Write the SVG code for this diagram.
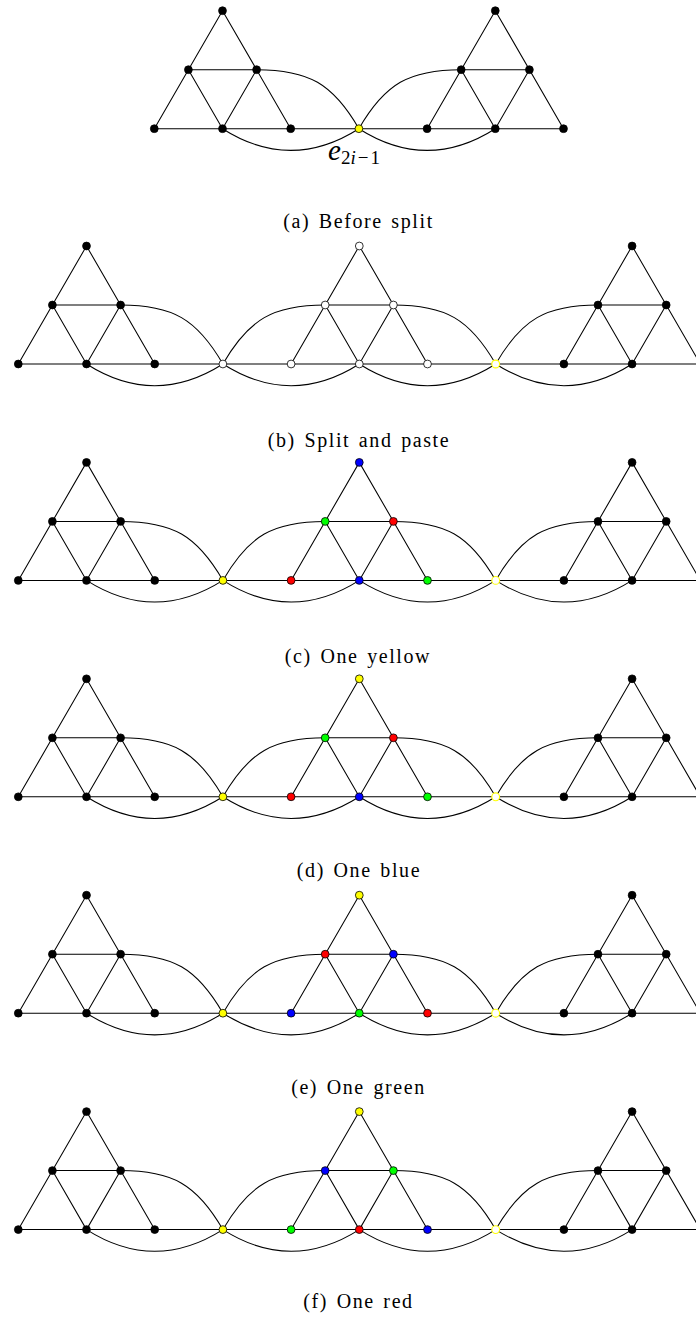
<svg xmlns="http://www.w3.org/2000/svg" xmlns:xlink="http://www.w3.org/1999/xlink" width="696" height="1318" viewBox="0 0 696 1318">
<style>
.e{fill:none;stroke:#000;stroke-width:1.05}
.n{stroke:#000;stroke-width:0.8}
.k{fill:#000}.w{fill:#fff}.y{fill:#ffff00}.b{fill:#0000ff}.r{fill:#ff0000}.g{fill:#00ff00}
.p{fill:#fff;stroke:#ffff00;stroke-width:1.1}
.cap{font-size:20px;letter-spacing:1.6px;word-spacing:2px;fill:#000;text-anchor:middle}
</style>
<defs>
<g id="gadL"><path class="e" d="M18.3,0 L86.5,-118 L154.7,0 M52.4,-59 H120.6 M52.4,-59 L86.5,0 L120.6,-59"/></g>
<g id="gadM"><path class="e" d="M291.1,0 L359.3,-118 L427.5,0 M325.2,-59 H393.4 M325.2,-59 L359.3,0 L393.4,-59"/></g>
<g id="gadR"><path class="e" d="M563.9,0 L632.1,-118 L700.3,0 M598,-59 H666.2 M598,-59 L632.1,0 L666.2,-59"/></g>
<g id="curves1"><path class="e" d="M120.6,-59 C172.6,-59 196.9,-45 222.9,0 M222.9,0 C248.9,-45 273.2,-59 325.2,-59 M86.5,0 C131.8,28.8 177.6,28.8 222.9,0 M222.9,0 C268.2,28.8 314,28.8 359.3,0"/></g>
<g id="curves2"><path class="e" d="M393.4,-59 C445.4,-59 469.7,-45 495.7,0 M495.7,0 C521.7,-45 546,-59 598,-59 M359.3,0 C404.6,28.8 450.4,28.8 495.7,0 M495.7,0 C541,28.8 586.8,28.8 632.1,0"/></g>
<g id="chain">
<path class="e" d="M18.3,0 H700.3"/>
<use xlink:href="#gadL"/><use xlink:href="#gadM"/><use xlink:href="#gadR"/>
<use xlink:href="#curves1"/><use xlink:href="#curves2"/>
</g>
</defs>

<g id="connectors">
<g id="edges-a" transform="translate(136,128.7)">
<path class="e" d="M18.3,0 H427.5"/>
<use xlink:href="#gadL"/><use xlink:href="#gadM"/><use xlink:href="#curves1"/>
</g>
<use id="edges-b" xlink:href="#chain" transform="translate(0,364)"/>
<use id="edges-c" xlink:href="#chain" transform="translate(0,580.4)"/>
<use id="edges-d" xlink:href="#chain" transform="translate(0,796.8)"/>
<use id="edges-e" xlink:href="#chain" transform="translate(0,1013.2)"/>
<use id="edges-f" xlink:href="#chain" transform="translate(0,1229.6)"/>
</g>

<!-- Panel a -->
<g id="panel-a" transform="translate(136,128.7)">
<g id="a1"><circle class="n k" cx="18.3" cy="0" r="3.9"/></g>
<g id="a2"><circle class="n k" cx="86.5" cy="0" r="3.9"/></g>
<g id="a3"><circle class="n k" cx="154.7" cy="0" r="3.9"/></g>
<g id="a4"><circle class="n k" cx="52.4" cy="-59" r="3.9"/></g>
<g id="a5"><circle class="n k" cx="120.6" cy="-59" r="3.9"/></g>
<g id="a6"><circle class="n k" cx="86.5" cy="-118" r="3.9"/></g>
<g id="a7"><circle class="n y" cx="222.9" cy="0" r="3.9"/></g>
<g id="a8"><circle class="n k" cx="291.1" cy="0" r="3.9"/></g>
<g id="a9"><circle class="n k" cx="359.3" cy="0" r="3.9"/></g>
<g id="a10"><circle class="n k" cx="427.5" cy="0" r="3.9"/></g>
<g id="a11"><circle class="n k" cx="325.2" cy="-59" r="3.9"/></g>
<g id="a12"><circle class="n k" cx="393.4" cy="-59" r="3.9"/></g>
<g id="a13"><circle class="n k" cx="359.3" cy="-118" r="3.9"/></g>
</g>
<text x="328" y="160" font-family="'Liberation Serif', 'DejaVu Serif', serif" fill="#000"><tspan font-style="italic" font-size="29">e</tspan><tspan font-size="19" dy="3.5">2<tspan font-style="italic">i</tspan><tspan dx="2">−</tspan><tspan dx="2">1</tspan></tspan></text>
<text class="cap" font-family="'Liberation Serif', 'DejaVu Serif', serif" x="358.5" y="228">(a) Before split</text>

<!-- Panel b -->
<g id="panel-b" transform="translate(0,364)">
<g id="b1"><circle class="n k" cx="18.3" cy="0" r="3.9"/></g>
<g id="b2"><circle class="n k" cx="86.5" cy="0" r="3.9"/></g>
<g id="b3"><circle class="n k" cx="154.7" cy="0" r="3.9"/></g>
<g id="b4"><circle class="n k" cx="52.4" cy="-59" r="3.9"/></g>
<g id="b5"><circle class="n k" cx="120.6" cy="-59" r="3.9"/></g>
<g id="b6"><circle class="n k" cx="86.5" cy="-118" r="3.9"/></g>
<g id="b7"><circle class="n w" cx="222.9" cy="0" r="3.9"/></g>
<g id="b8"><circle class="n w" cx="291.1" cy="0" r="3.9"/></g>
<g id="b9"><circle class="n w" cx="359.3" cy="0" r="3.9"/></g>
<g id="b10"><circle class="n w" cx="427.5" cy="0" r="3.9"/></g>
<g id="b11"><circle class="n w" cx="325.2" cy="-59" r="3.9"/></g>
<g id="b12"><circle class="n w" cx="393.4" cy="-59" r="3.9"/></g>
<g id="b13"><circle class="n w" cx="359.3" cy="-118" r="3.9"/></g>
<g id="b14"><circle class="p" cx="495.7" cy="0" r="3.9"/></g>
<g id="b15"><circle class="n k" cx="563.9" cy="0" r="3.9"/></g>
<g id="b16"><circle class="n k" cx="632.1" cy="0" r="3.9"/></g>
<g id="b17"><circle class="n k" cx="700.3" cy="0" r="3.9"/></g>
<g id="b18"><circle class="n k" cx="598" cy="-59" r="3.9"/></g>
<g id="b19"><circle class="n k" cx="666.2" cy="-59" r="3.9"/></g>
<g id="b20"><circle class="n k" cx="632.1" cy="-118" r="3.9"/></g>
</g>
<text class="cap" font-family="'Liberation Serif', 'DejaVu Serif', serif" x="359" y="446.5">(b) Split and paste</text>

<!-- Panel c -->
<g id="panel-c" transform="translate(0,580.4)">
<g id="c1"><circle class="n k" cx="18.3" cy="0" r="3.9"/></g>
<g id="c2"><circle class="n k" cx="86.5" cy="0" r="3.9"/></g>
<g id="c3"><circle class="n k" cx="154.7" cy="0" r="3.9"/></g>
<g id="c4"><circle class="n k" cx="52.4" cy="-59" r="3.9"/></g>
<g id="c5"><circle class="n k" cx="120.6" cy="-59" r="3.9"/></g>
<g id="c6"><circle class="n k" cx="86.5" cy="-118" r="3.9"/></g>
<g id="c7"><circle class="n y" cx="222.9" cy="0" r="3.9"/></g>
<g id="c8"><circle class="n r" cx="291.1" cy="0" r="3.9"/></g>
<g id="c9"><circle class="n b" cx="359.3" cy="0" r="3.9"/></g>
<g id="c10"><circle class="n g" cx="427.5" cy="0" r="3.9"/></g>
<g id="c11"><circle class="n g" cx="325.2" cy="-59" r="3.9"/></g>
<g id="c12"><circle class="n r" cx="393.4" cy="-59" r="3.9"/></g>
<g id="c13"><circle class="n b" cx="359.3" cy="-118" r="3.9"/></g>
<g id="c14"><circle class="p" cx="495.7" cy="0" r="3.9"/></g>
<g id="c15"><circle class="n k" cx="563.9" cy="0" r="3.9"/></g>
<g id="c16"><circle class="n k" cx="632.1" cy="0" r="3.9"/></g>
<g id="c17"><circle class="n k" cx="700.3" cy="0" r="3.9"/></g>
<g id="c18"><circle class="n k" cx="598" cy="-59" r="3.9"/></g>
<g id="c19"><circle class="n k" cx="666.2" cy="-59" r="3.9"/></g>
<g id="c20"><circle class="n k" cx="632.1" cy="-118" r="3.9"/></g>
</g>
<text class="cap" font-family="'Liberation Serif', 'DejaVu Serif', serif" x="358" y="662.5">(c) One yellow</text>

<!-- Panel d -->
<g id="panel-d" transform="translate(0,796.8)">
<g id="d1"><circle class="n k" cx="18.3" cy="0" r="3.9"/></g>
<g id="d2"><circle class="n k" cx="86.5" cy="0" r="3.9"/></g>
<g id="d3"><circle class="n k" cx="154.7" cy="0" r="3.9"/></g>
<g id="d4"><circle class="n k" cx="52.4" cy="-59" r="3.9"/></g>
<g id="d5"><circle class="n k" cx="120.6" cy="-59" r="3.9"/></g>
<g id="d6"><circle class="n k" cx="86.5" cy="-118" r="3.9"/></g>
<g id="d7"><circle class="n y" cx="222.9" cy="0" r="3.9"/></g>
<g id="d8"><circle class="n r" cx="291.1" cy="0" r="3.9"/></g>
<g id="d9"><circle class="n b" cx="359.3" cy="0" r="3.9"/></g>
<g id="d10"><circle class="n g" cx="427.5" cy="0" r="3.9"/></g>
<g id="d11"><circle class="n g" cx="325.2" cy="-59" r="3.9"/></g>
<g id="d12"><circle class="n r" cx="393.4" cy="-59" r="3.9"/></g>
<g id="d13"><circle class="n y" cx="359.3" cy="-118" r="3.9"/></g>
<g id="d14"><circle class="p" cx="495.7" cy="0" r="3.9"/></g>
<g id="d15"><circle class="n k" cx="563.9" cy="0" r="3.9"/></g>
<g id="d16"><circle class="n k" cx="632.1" cy="0" r="3.9"/></g>
<g id="d17"><circle class="n k" cx="700.3" cy="0" r="3.9"/></g>
<g id="d18"><circle class="n k" cx="598" cy="-59" r="3.9"/></g>
<g id="d19"><circle class="n k" cx="666.2" cy="-59" r="3.9"/></g>
<g id="d20"><circle class="n k" cx="632.1" cy="-118" r="3.9"/></g>
</g>
<text class="cap" font-family="'Liberation Serif', 'DejaVu Serif', serif" x="359" y="877">(d) One blue</text>

<!-- Panel e -->
<g id="panel-e" transform="translate(0,1013.2)">
<g id="e1"><circle class="n k" cx="18.3" cy="0" r="3.9"/></g>
<g id="e2"><circle class="n k" cx="86.5" cy="0" r="3.9"/></g>
<g id="e3"><circle class="n k" cx="154.7" cy="0" r="3.9"/></g>
<g id="e4"><circle class="n k" cx="52.4" cy="-59" r="3.9"/></g>
<g id="e5"><circle class="n k" cx="120.6" cy="-59" r="3.9"/></g>
<g id="e6"><circle class="n k" cx="86.5" cy="-118" r="3.9"/></g>
<g id="e7"><circle class="n y" cx="222.9" cy="0" r="3.9"/></g>
<g id="e8"><circle class="n b" cx="291.1" cy="0" r="3.9"/></g>
<g id="e9"><circle class="n g" cx="359.3" cy="0" r="3.9"/></g>
<g id="e10"><circle class="n r" cx="427.5" cy="0" r="3.9"/></g>
<g id="e11"><circle class="n r" cx="325.2" cy="-59" r="3.9"/></g>
<g id="e12"><circle class="n b" cx="393.4" cy="-59" r="3.9"/></g>
<g id="e13"><circle class="n y" cx="359.3" cy="-118" r="3.9"/></g>
<g id="e14"><circle class="p" cx="495.7" cy="0" r="3.9"/></g>
<g id="e15"><circle class="n k" cx="563.9" cy="0" r="3.9"/></g>
<g id="e16"><circle class="n k" cx="632.1" cy="0" r="3.9"/></g>
<g id="e17"><circle class="n k" cx="700.3" cy="0" r="3.9"/></g>
<g id="e18"><circle class="n k" cx="598" cy="-59" r="3.9"/></g>
<g id="e19"><circle class="n k" cx="666.2" cy="-59" r="3.9"/></g>
<g id="e20"><circle class="n k" cx="632.1" cy="-118" r="3.9"/></g>
</g>
<text class="cap" font-family="'Liberation Serif', 'DejaVu Serif', serif" x="358.5" y="1093.5">(e) One green</text>

<!-- Panel f -->
<g id="panel-f" transform="translate(0,1229.6)">
<g id="f1"><circle class="n k" cx="18.3" cy="0" r="3.9"/></g>
<g id="f2"><circle class="n k" cx="86.5" cy="0" r="3.9"/></g>
<g id="f3"><circle class="n k" cx="154.7" cy="0" r="3.9"/></g>
<g id="f4"><circle class="n k" cx="52.4" cy="-59" r="3.9"/></g>
<g id="f5"><circle class="n k" cx="120.6" cy="-59" r="3.9"/></g>
<g id="f6"><circle class="n k" cx="86.5" cy="-118" r="3.9"/></g>
<g id="f7"><circle class="n y" cx="222.9" cy="0" r="3.9"/></g>
<g id="f8"><circle class="n g" cx="291.1" cy="0" r="3.9"/></g>
<g id="f9"><circle class="n r" cx="359.3" cy="0" r="3.9"/></g>
<g id="f10"><circle class="n b" cx="427.5" cy="0" r="3.9"/></g>
<g id="f11"><circle class="n b" cx="325.2" cy="-59" r="3.9"/></g>
<g id="f12"><circle class="n g" cx="393.4" cy="-59" r="3.9"/></g>
<g id="f13"><circle class="n y" cx="359.3" cy="-118" r="3.9"/></g>
<g id="f14"><circle class="p" cx="495.7" cy="0" r="3.9"/></g>
<g id="f15"><circle class="n k" cx="563.9" cy="0" r="3.9"/></g>
<g id="f16"><circle class="n k" cx="632.1" cy="0" r="3.9"/></g>
<g id="f17"><circle class="n k" cx="700.3" cy="0" r="3.9"/></g>
<g id="f18"><circle class="n k" cx="598" cy="-59" r="3.9"/></g>
<g id="f19"><circle class="n k" cx="666.2" cy="-59" r="3.9"/></g>
<g id="f20"><circle class="n k" cx="632.1" cy="-118" r="3.9"/></g>
</g>
<text class="cap" font-family="'Liberation Serif', 'DejaVu Serif', serif" x="358.5" y="1307.5">(f) One red</text>
</svg>
